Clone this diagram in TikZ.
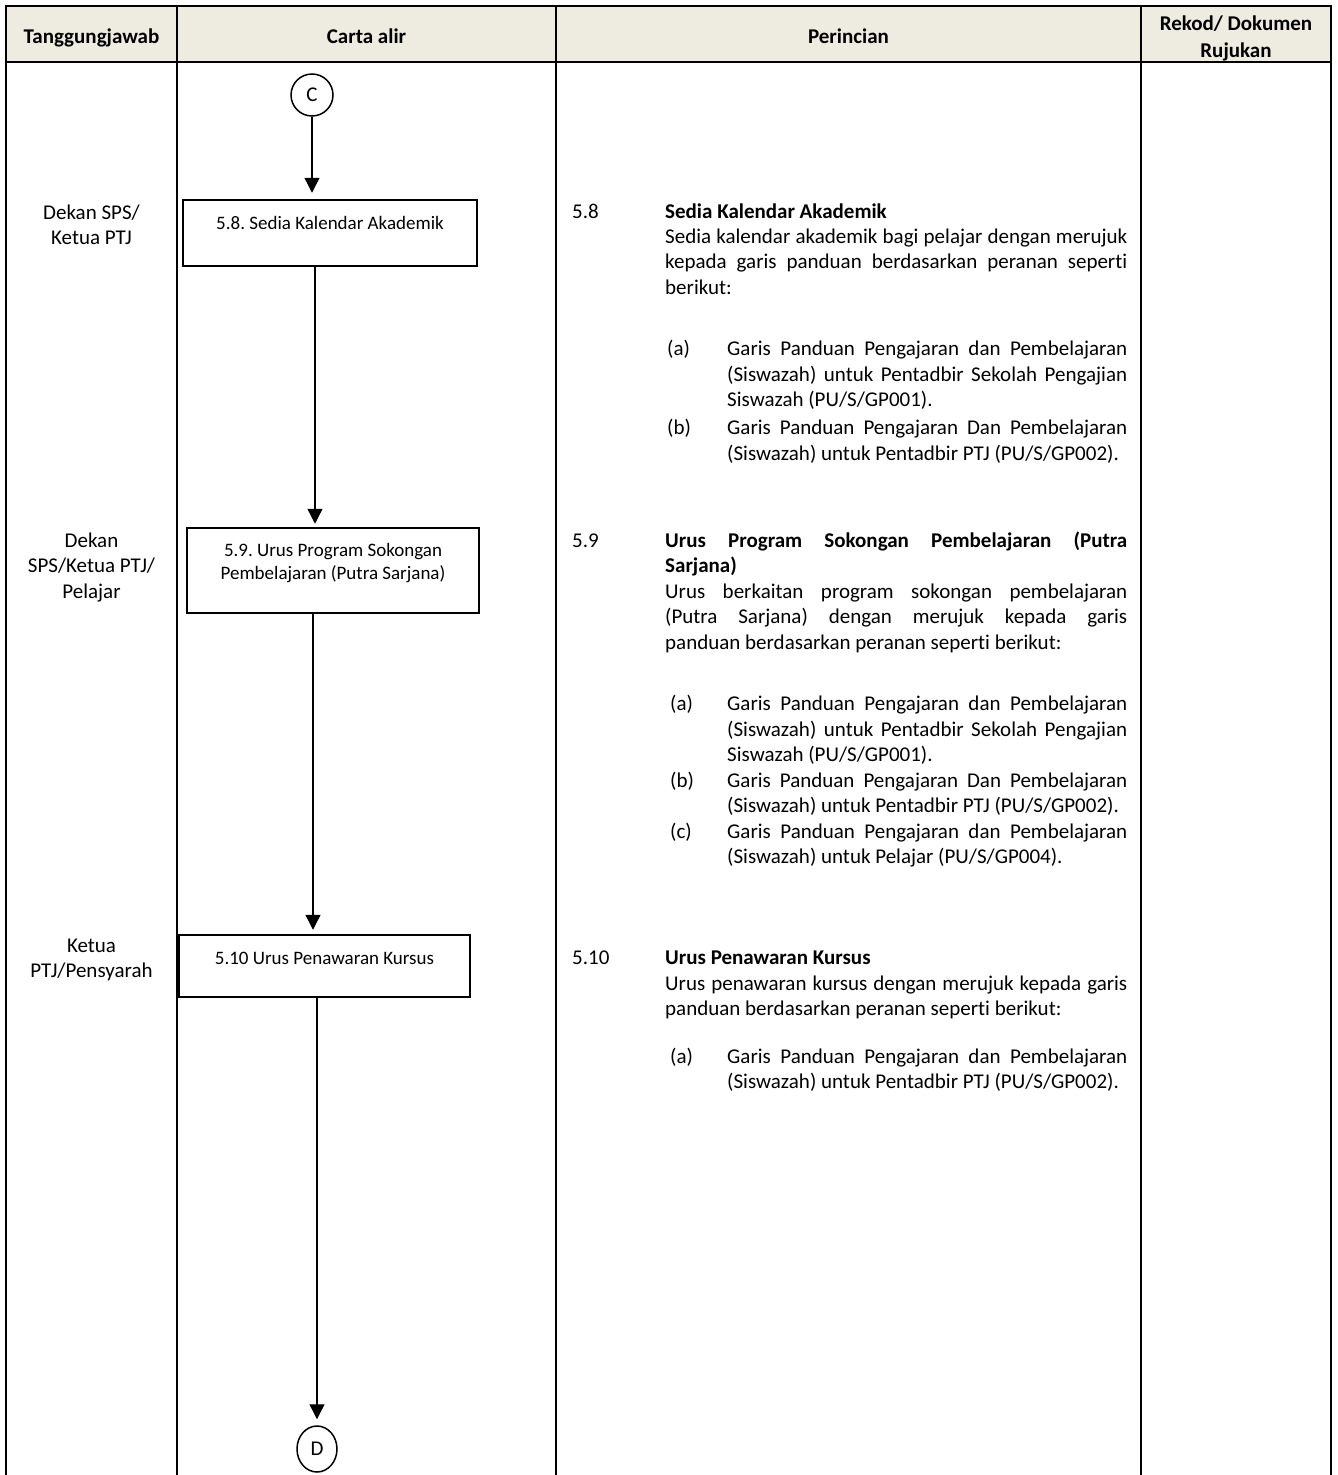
\documentclass[tikz,border=0pt]{standalone}
\usepackage{fontspec}
\setmainfont{Carlito}[Ligatures={NoCommon}]
\usetikzlibrary{arrows.meta,shapes.geometric}
\definecolor{hdrbg}{HTML}{EEECE1}
\newcommand{\J}[2]{\makebox[#1][s]{#2}}
\frenchspacing
\begin{document}
\begin{tikzpicture}[x=1pt,y=-1pt,
  tbl/.style={line width=2pt, black},
  hdr/.style={font=\bfseries\fontsize{21}{26}\selectfont, inner sep=0pt, anchor=base},
  who/.style={font=\fontsize{21}{26}\selectfont, inner sep=0pt, anchor=base},
  txt/.style={font=\fontsize{21}{26}\selectfont, inner sep=0pt, anchor=base west},
  btxt/.style={font=\bfseries\fontsize{21}{26}\selectfont, inner sep=0pt, anchor=base west},
  stepbox/.style={draw, line width=2.5pt, inner sep=0pt},
  boxtxt/.style={font=\fontsize{19}{23}\selectfont, inner sep=0pt, anchor=base},
  conn/.style={draw, ellipse, line width=1.5pt, inner sep=0pt, font=\fontsize{21}{25}\selectfont},
  arr/.style={line width=1.3pt, -{Triangle[width=15pt,length=15pt]}}
]
\useasboundingbox (0,0) rectangle (1338,1475);
% table frame
\fill[hdrbg] (6,6) rectangle (1331,62);
\draw[tbl] (5,6) -- (1332,6);
\draw[tbl] (5,62) -- (1332,62);
\foreach \xx in {6,177,556,1141,1331} \draw[tbl] (\xx,5) -- (\xx,1480);
% header
\node[hdr] (h1) at (91.5,43) {Tanggungjawab};
\node[hdr] (h2) at (366.5,43) {Carta alir};
\node[hdr] (h3) at (848.5,43) {Perincian};
\node[hdr] (h4a) at (1236,30) {Rekod/ Dokumen};
\node[hdr] (h4b) at (1236,57) {Rujukan};
% responsibility
\node[who] (w1a) at (91.5,219) {Dekan SPS/};
\node[who] (w1b) at (91.5,244) {Ketua PTJ};
\node[who] (w2a) at (91.5,547) {Dekan};
\node[who] (w2b) at (91.5,572) {SPS/Ketua PTJ/};
\node[who] (w2c) at (91.5,598) {Pelajar};
\node[who] (w3a) at (91.5,952) {Ketua};
\node[who] (w3b) at (91.5,977) {PTJ/Pensyarah};
% flow chart
\node[conn, minimum width=42pt, minimum height=42pt] (C) at (312,95) {C};
\node[stepbox, minimum width=294pt, minimum height=66pt] (b58) at (330,233) {};
\node[boxtxt] (t58) at (330,229.5) {5.8. Sedia Kalendar Akademik};
\node[stepbox, minimum width=292pt, minimum height=85pt] (b59) at (333,570.5) {};
\node[boxtxt] (t59a) at (333,556.5) {5.9. Urus Program Sokongan};
\node[boxtxt] (t59b) at (333,579.5) {Pembelajaran (Putra Sarjana)};
\node[stepbox, minimum width=291pt, minimum height=62pt] (b510) at (324.5,966) {};
\node[boxtxt] (t510) at (324.5,964.5) {5.10 Urus Penawaran Kursus};
\node[conn, minimum width=40pt, minimum height=46pt] (D) at (317,1449) {D};
\draw[arr, shorten >=6pt] (C.south) -- (C.south |- b58.north);
\draw[arr, shorten >=3pt] ([xshift=-15pt]b58.south) -- ([xshift=-18pt]b59.north);
\draw[arr, shorten >=4pt] ([xshift=-20pt]b59.south) -- ([xshift=-11.5pt]b510.north);
\draw[arr, shorten >=6pt] ([xshift=-7.5pt]b510.south) -- (D.north);
% details 5.8
\node[txt] (n58) at (572,218) {5.8};
\node[btxt] (p1) at (665,218) {Sedia Kalendar Akademik};
\node[txt] (p2) at (665,243) {\J{462pt}{Sedia kalendar akademik bagi pelajar dengan merujuk}};
\node[txt] (p3) at (665,268) {\J{462pt}{kepada garis panduan berdasarkan peranan seperti}};
\node[txt] (p4) at (665,294) {berikut:};
\node[txt] (a1l) at (667,355) {(a)};
\node[txt] (a1a) at (727,355) {\J{400pt}{Garis Panduan Pengajaran dan Pembelajaran}};
\node[txt] (a1b) at (727,381) {\J{400pt}{(Siswazah) untuk Pentadbir Sekolah Pengajian}};
\node[txt] (a1c) at (727,406) {Siswazah (PU/S/GP001).};
\node[txt] (b1l) at (667,434) {(b)};
\node[txt] (b1a) at (727,434) {\J{400pt}{Garis Panduan Pengajaran Dan Pembelajaran}};
\node[txt] (b1b) at (727,460) {(Siswazah) untuk Pentadbir PTJ (PU/S/GP002).};
% details 5.9
\node[txt] (n59) at (572,547) {5.9};
\node[btxt] (q1) at (665,547) {\J{462pt}{Urus Program Sokongan Pembelajaran (Putra}};
\node[btxt] (q2) at (665,572) {Sarjana)};
\node[txt] (q3) at (665,598) {\J{462pt}{Urus berkaitan program sokongan pembelajaran}};
\node[txt] (q4) at (665,623) {\J{462pt}{(Putra Sarjana) dengan merujuk kepada garis}};
\node[txt] (q5) at (665,649) {panduan berdasarkan peranan seperti berikut:};
\node[txt] (a2l) at (670,710) {(a)};
\node[txt] (a2a) at (727,710) {\J{400pt}{Garis Panduan Pengajaran dan Pembelajaran}};
\node[txt] (a2b) at (727,736) {\J{400pt}{(Siswazah) untuk Pentadbir Sekolah Pengajian}};
\node[txt] (a2c) at (727,761) {Siswazah (PU/S/GP001).};
\node[txt] (b2l) at (670,787) {(b)};
\node[txt] (b2a) at (727,787) {\J{400pt}{Garis Panduan Pengajaran Dan Pembelajaran}};
\node[txt] (b2b) at (727,812) {(Siswazah) untuk Pentadbir PTJ (PU/S/GP002).};
\node[txt] (c2l) at (670,838) {(c)};
\node[txt] (c2a) at (727,838) {\J{400pt}{Garis Panduan Pengajaran dan Pembelajaran}};
\node[txt] (c2b) at (727,863) {(Siswazah) untuk Pelajar (PU/S/GP004).};
% details 5.10
\node[txt] (n510) at (572,964) {5.10};
\node[btxt] (r1) at (665,964) {Urus Penawaran Kursus};
\node[txt] (r2) at (665,990) {\J{462pt}{Urus penawaran kursus dengan merujuk kepada garis}};
\node[txt] (r3) at (665,1015) {panduan berdasarkan peranan seperti berikut:};
\node[txt] (a3l) at (670,1063) {(a)};
\node[txt] (a3a) at (727,1063) {\J{400pt}{Garis Panduan Pengajaran dan Pembelajaran}};
\node[txt] (a3b) at (727,1088) {(Siswazah) untuk Pentadbir PTJ (PU/S/GP002).};
\end{tikzpicture}
\end{document}
